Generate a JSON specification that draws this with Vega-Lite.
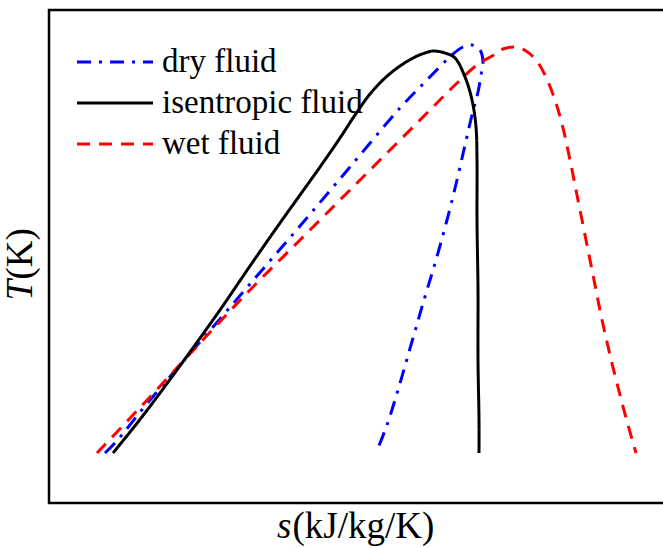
{
  "$schema": "https://vega.github.io/schema/vega-lite/v6.json",
  "width": 616,
  "height": 493,
  "autosize": {"type": "none"},
  "padding": {"left": 49, "top": 10, "right": 0, "bottom": 45},
  "background": "white",
  "config": {
    "view": {"stroke": "black", "strokeWidth": 2.5},
    "font": "Liberation Serif",
    "axis": {"domain": false, "ticks": false, "labels": false, "grid": false, "titleFont": "Liberation Serif", "titleFontSize": 37, "titleFontWeight": "normal", "titleColor": "black", "titleBaseline": "alphabetic"}
  },
  "data": {
    "values": [
      {"series": "isentropic fluid", "o": 1, "s": 64, "T": 50},
      {"series": "isentropic fluid", "o": 2, "s": 89, "T": 81},
      {"series": "isentropic fluid", "o": 3, "s": 111, "T": 110},
      {"series": "isentropic fluid", "o": 4, "s": 141, "T": 151},
      {"series": "isentropic fluid", "o": 5, "s": 171, "T": 193},
      {"series": "isentropic fluid", "o": 6, "s": 201, "T": 237},
      {"series": "isentropic fluid", "o": 7, "s": 231, "T": 280},
      {"series": "isentropic fluid", "o": 8, "s": 251, "T": 308},
      {"series": "isentropic fluid", "o": 9, "s": 271, "T": 336},
      {"series": "isentropic fluid", "o": 10, "s": 291, "T": 365},
      {"series": "isentropic fluid", "o": 11, "s": 306, "T": 388},
      {"series": "isentropic fluid", "o": 12, "s": 321, "T": 409},
      {"series": "isentropic fluid", "o": 13, "s": 336, "T": 425},
      {"series": "isentropic fluid", "o": 14, "s": 351, "T": 437},
      {"series": "isentropic fluid", "o": 15, "s": 366, "T": 446},
      {"series": "isentropic fluid", "o": 16, "s": 376, "T": 450},
      {"series": "isentropic fluid", "o": 17, "s": 384, "T": 452},
      {"series": "isentropic fluid", "o": 18, "s": 396, "T": 450},
      {"series": "isentropic fluid", "o": 19, "s": 406, "T": 445},
      {"series": "isentropic fluid", "o": 20, "s": 416, "T": 426},
      {"series": "isentropic fluid", "o": 21, "s": 423, "T": 403},
      {"series": "isentropic fluid", "o": 22, "s": 427, "T": 376},
      {"series": "isentropic fluid", "o": 23, "s": 428, "T": 343},
      {"series": "isentropic fluid", "o": 24, "s": 428, "T": 283},
      {"series": "isentropic fluid", "o": 25, "s": 429, "T": 213},
      {"series": "isentropic fluid", "o": 26, "s": 429, "T": 143},
      {"series": "isentropic fluid", "o": 27, "s": 430, "T": 83},
      {"series": "isentropic fluid", "o": 28, "s": 430, "T": 50},

      {"series": "dry fluid", "o": 1, "s": 56, "T": 50},
      {"series": "dry fluid", "o": 2, "s": 66, "T": 60},
      {"series": "dry fluid", "o": 3, "s": 101, "T": 103},
      {"series": "dry fluid", "o": 4, "s": 151, "T": 161},
      {"series": "dry fluid", "o": 5, "s": 201, "T": 219},
      {"series": "dry fluid", "o": 6, "s": 251, "T": 277},
      {"series": "dry fluid", "o": 7, "s": 301, "T": 336},
      {"series": "dry fluid", "o": 8, "s": 351, "T": 395},
      {"series": "dry fluid", "o": 9, "s": 378, "T": 423},
      {"series": "dry fluid", "o": 10, "s": 404, "T": 449},
      {"series": "dry fluid", "o": 11, "s": 414, "T": 456},
      {"series": "dry fluid", "o": 12, "s": 423, "T": 458},
      {"series": "dry fluid", "o": 13, "s": 431, "T": 453},
      {"series": "dry fluid", "o": 14, "s": 434, "T": 441},
      {"series": "dry fluid", "o": 15, "s": 432, "T": 428},
      {"series": "dry fluid", "o": 16, "s": 429, "T": 411},
      {"series": "dry fluid", "o": 17, "s": 423, "T": 388},
      {"series": "dry fluid", "o": 18, "s": 416, "T": 358},
      {"series": "dry fluid", "o": 19, "s": 408, "T": 323},
      {"series": "dry fluid", "o": 20, "s": 398, "T": 283},
      {"series": "dry fluid", "o": 21, "s": 387, "T": 243},
      {"series": "dry fluid", "o": 22, "s": 375, "T": 203},
      {"series": "dry fluid", "o": 23, "s": 362, "T": 158},
      {"series": "dry fluid", "o": 24, "s": 349, "T": 113},
      {"series": "dry fluid", "o": 25, "s": 338, "T": 78},
      {"series": "dry fluid", "o": 26, "s": 327, "T": 50},

      {"series": "wet fluid", "o": 1, "s": 48, "T": 50},
      {"series": "wet fluid", "o": 2, "s": 101, "T": 106},
      {"series": "wet fluid", "o": 3, "s": 151, "T": 160},
      {"series": "wet fluid", "o": 4, "s": 201, "T": 213},
      {"series": "wet fluid", "o": 5, "s": 251, "T": 263},
      {"series": "wet fluid", "o": 6, "s": 301, "T": 313},
      {"series": "wet fluid", "o": 7, "s": 351, "T": 363},
      {"series": "wet fluid", "o": 8, "s": 384, "T": 396},
      {"series": "wet fluid", "o": 9, "s": 406, "T": 418},
      {"series": "wet fluid", "o": 10, "s": 428, "T": 438},
      {"series": "wet fluid", "o": 11, "s": 443, "T": 447},
      {"series": "wet fluid", "o": 12, "s": 454, "T": 454},
      {"series": "wet fluid", "o": 13, "s": 466, "T": 456},
      {"series": "wet fluid", "o": 14, "s": 477, "T": 452},
      {"series": "wet fluid", "o": 15, "s": 487, "T": 443},
      {"series": "wet fluid", "o": 16, "s": 496, "T": 428},
      {"series": "wet fluid", "o": 17, "s": 506, "T": 403},
      {"series": "wet fluid", "o": 18, "s": 514, "T": 375},
      {"series": "wet fluid", "o": 19, "s": 521, "T": 343},
      {"series": "wet fluid", "o": 20, "s": 528, "T": 308},
      {"series": "wet fluid", "o": 21, "s": 536, "T": 268},
      {"series": "wet fluid", "o": 22, "s": 544, "T": 228},
      {"series": "wet fluid", "o": 23, "s": 552, "T": 188},
      {"series": "wet fluid", "o": 24, "s": 561, "T": 148},
      {"series": "wet fluid", "o": 25, "s": 571, "T": 108},
      {"series": "wet fluid", "o": 26, "s": 579, "T": 78},
      {"series": "wet fluid", "o": 27, "s": 587, "T": 50}
    ]
  },
  "encoding": {
    "order": {"field": "o", "type": "quantitative"},
    "color": {"field": "series", "type": "nominal",
      "scale": {"domain": ["dry fluid", "isentropic fluid", "wet fluid"], "range": ["#0000ff", "#000000", "#ff0000"]},
      "legend": {"title": null, "orient": "none", "legendX": 45.5, "legendY": 31.5, "symbolType": "M-2,0H2", "symbolSize": 1444, "symbolStrokeWidth": 3, "labelFont": "Liberation Serif", "labelFontSize": 33, "labelColor": "black", "rowPadding": 3, "padding": 0, "labelOffset": 26.5, "labelLimit": 400}},
    "strokeDash": {"field": "series", "type": "nominal",
      "scale": {"domain": ["dry fluid", "isentropic fluid", "wet fluid"], "range": [[14, 8, 3, 8], [1, 0], [13, 9]]},
      "legend": {"title": null, "orient": "none", "legendX": 45.5, "legendY": 31.5, "symbolType": "M-2,0H2", "symbolSize": 1444, "symbolStrokeWidth": 3, "labelFont": "Liberation Serif", "labelFontSize": 33, "labelColor": "black", "rowPadding": 3, "padding": 0, "labelOffset": 26.5, "labelLimit": 400}}
  },
  "layer": [
    {
      "transform": [{"filter": "datum.series !== 'isentropic fluid'"}],
      "mark": {"type": "line", "strokeWidth": 3, "interpolate": "catmull-rom", "clip": true},
      "encoding": {
        "x": {"field": "s", "type": "quantitative", "scale": {"domain": [0, 616], "nice": false, "zero": false},
          "axis": {"orient": "bottom", "title": "s", "titleFontStyle": "italic", "titleX": 242, "titleY": 34, "titleAlign": "right", "titleAngle": 0}},
        "y": {"field": "T", "type": "quantitative", "scale": {"domain": [0, 493], "nice": false, "zero": false},
          "axis": {"orient": "left", "title": "T", "titleFontStyle": "italic", "titleX": -18, "titleY": 290, "titleAlign": "left", "titleAngle": -90}}
      }
    },
    {
      "transform": [{"filter": "datum.series === 'isentropic fluid'"}],
      "mark": {"type": "line", "strokeWidth": 3, "interpolate": "catmull-rom", "clip": true},
      "encoding": {
        "x": {"field": "s", "type": "quantitative", "scale": {"domain": [0, 616], "nice": false, "zero": false},
          "axis": {"orient": "top", "title": "(kJ/kg/K)", "titleX": 243, "titleY": 527, "titleAlign": "left", "titleAngle": 0}},
        "y": {"field": "T", "type": "quantitative", "scale": {"domain": [0, 493], "nice": false, "zero": false},
          "axis": {"orient": "right", "title": "(K)", "titleX": -634, "titleY": 269, "titleAlign": "left", "titleAngle": -90}}
      }
    }
  ],
  "resolve": {"axis": {"x": "independent", "y": "independent"}}
}
